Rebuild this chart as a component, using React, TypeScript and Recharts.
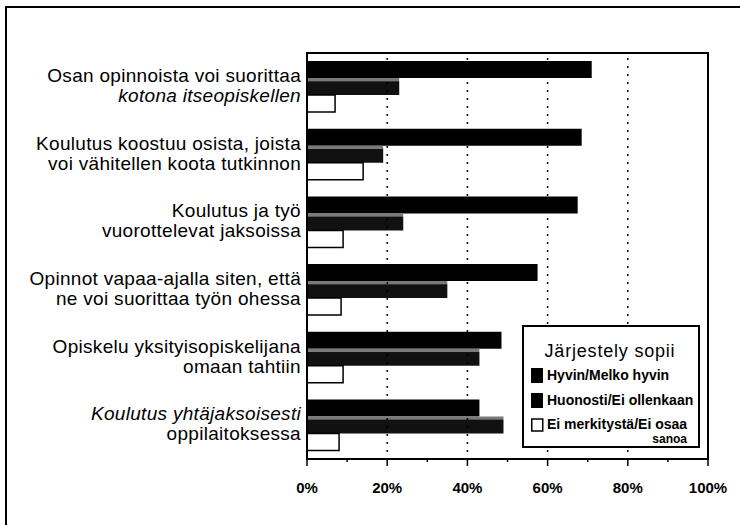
import React from 'react';
import { BarChart, Bar, XAxis, YAxis, ReferenceLine, ReferenceArea, Legend } from 'recharts';

const categories = [
  'Osan opinnoista voi suorittaa|kotona itseopiskellen',
  'Koulutus koostuu osista, joista|voi vähitellen koota tutkinnon',
  'Koulutus ja työ|vuorottelevat jaksoissa',
  'Opinnot vapaa-ajalla siten, että|ne voi suorittaa työn ohessa',
  'Opiskelu yksityisopiskelijana|omaan tahtiin',
  'Koulutus yhtäjaksoisesti|oppilaitoksessa',
];
const hyvin = [71, 68.5, 67.5, 57.5, 48.5, 43];
const huonosti = [23, 19, 24, 35, 43, 49];
const eiMerk = [7, 14, 9, 8.5, 9, 8];
const xTicks = [0, 10, 20, 30, 40, 50, 60, 70, 80, 90, 100];
const gridValues = [20, 40, 60, 80];
const sepTicks = [0, 1, 2, 3, 4, 5, 6];
const legendTitle = 'Järjestely sopii';
const seriesNames = ['Hyvin/Melko hyvin', 'Huonosti/Ei ollenkaan', 'Ei merkitystä/Ei osaa|sanoa'];

// which line of each label is italic (1 = first, 2 = second, 0 = none)
const italicLine = [2, 0, 0, 0, 0, 1];

const data = categories.map((name, i) => ({
  name,
  hyvin: hyvin[i],
  huonosti: huonosti[i],
  ei: eiMerk[i],
}));

const FONT = "'Liberation Sans', Arial, Helvetica, sans-serif";

const XTick = (props: any) => {
  const { x, y, payload } = props;
  const major = payload.value % 20 === 0;
  return (
    <g>
      <line x1={x} x2={x} y1={y} y2={y + (major ? 7 : 3)} stroke="#000" strokeWidth={1.5} />
      {major && (
        <text x={x} y={y + 34} textAnchor="middle" fontFamily={FONT} fontWeight="bold" fontSize={15} fill="#000">
          {payload.value}%
        </text>
      )}
    </g>
  );
};

const YTick = (props: any) => {
  const { x, y, payload } = props;
  const lines = String(payload.value).split('|');
  const idx = categories.indexOf(payload.value);
  const it = italicLine[idx];
  return (
    <text textAnchor="end" fontFamily={FONT} fontSize={19} fill="#000" letterSpacing={0.3}>
      <tspan x={x - 6} y={y - 5} fontStyle={it === 1 ? 'italic' : 'normal'}>{lines[0]}</tspan>
      <tspan x={x - 6} y={y + 15} fontStyle={it === 2 ? 'italic' : 'normal'}>{lines[1]}</tspan>
    </text>
  );
};

const LegendBox = () => {
  const [n1, n2, n3] = seriesNames;
  const n3lines = n3.split('|');
  return (
    <svg width={178} height={123} style={{ display: 'block' }}>
      <rect x={1} y={1} width={176} height={121} fill="#fff" stroke="#000" strokeWidth={2} />
      <text x={88} y={32} textAnchor="middle" fontFamily={FONT} fontSize={18} letterSpacing={0.8} fill="#000">
        {legendTitle}
      </text>
      <rect x={9} y={43} width={12} height={15} fill="#000" />
      <text x={25} y={55} fontFamily={FONT} fontWeight="bold" fontSize={14} fill="#000">{n1}</text>
      <rect x={9} y={68} width={12} height={15} fill="#000" />
      <text x={25} y={80} fontFamily={FONT} fontWeight="bold" fontSize={14} fill="#000">{n2}</text>
      <rect x={9.75} y={94} width={11} height={12} fill="#fff" stroke="#000" strokeWidth={1.5} />
      <text x={25} y={104} fontFamily={FONT} fontWeight="bold" fontSize={14} fill="#000">{n3lines[0]}</text>
      <text x={165} y={118} textAnchor="end" fontFamily={FONT} fontWeight="bold" fontSize={12} fill="#000">{n3lines[1]}</text>
    </svg>
  );
};

export default function App() {
  return (
    <div>
      <div
        style={{
          position: 'absolute',
          left: 5,
          top: 6,
          width: 735,
          height: 519,
          boxSizing: 'border-box',
          borderTop: '2px solid #000',
          borderLeft: '2px solid #000',
        }}
      />
      <div style={{ position: 'absolute', left: 0, top: 0, width: 740, height: 525 }}>
        <BarChart
          width={740}
          height={525}
          data={data}
          layout="vertical"
          margin={{ top: 53, right: 32, left: 0, bottom: 0 }}
          barCategoryGap="12%"
          barGap={0}
        >
          <defs>
            <linearGradient id="huonGrad" x1="0" y1="0" x2="0" y2="1">
              <stop offset="0" stopColor="#7a7a7a" />
              <stop offset="0.16" stopColor="#7a7a7a" />
              <stop offset="0.22" stopColor="#111" />
              <stop offset="1" stopColor="#111" />
            </linearGradient>
          </defs>
          <XAxis
            type="number"
            domain={[0, 100]}
            ticks={xTicks}
            interval={0}
            height={66}
            tickSize={0}
            tickMargin={0}
            tickLine={false}
            axisLine={{ stroke: '#000', strokeWidth: 2 }}
            tick={<XTick />}
          />
          <YAxis
            yAxisId="sep"
            type="number"
            domain={[0, 6]}
            ticks={sepTicks}
            interval={0}
            width={1}
            axisLine={false}
            tick={false}
            tickSize={5}
            tickLine={{ stroke: '#000', strokeWidth: 1.5 }}
          />
          <YAxis
            yAxisId="cat"
            type="category"
            dataKey="name"
            width={306}
            interval={0}
            tickSize={0}
            tickMargin={0}
            tickLine={false}
            axisLine={{ stroke: '#000', strokeWidth: 2 }}
            tick={<YTick />}
          />
          {gridValues.map((v) => (
            <ReferenceLine
              key={v}
              x={v}
              yAxisId="cat"
              stroke="#000"
              strokeWidth={2}
              strokeDasharray="0 8"
              strokeLinecap="round"
            />
          ))}
          <ReferenceArea x1={0} x2={100} yAxisId="cat" fill="none" stroke="#000" strokeWidth={2} fillOpacity={0} ifOverflow="visible" />
          <Bar dataKey="hyvin" yAxisId="cat" fill="#000" isAnimationActive={false} />
          <Bar dataKey="huonosti" yAxisId="cat" fill="url(#huonGrad)" isAnimationActive={false} />
          <Bar dataKey="ei" yAxisId="cat" fill="#fff" stroke="#000" strokeWidth={1.5} isAnimationActive={false} />
          <Legend
            layout="vertical"
            align="center"
            verticalAlign="middle"
            wrapperStyle={{ left: 522, top: 325, width: 178, height: 123 }}
            content={<LegendBox />}
          />
        </BarChart>
      </div>
    </div>
  );
}
